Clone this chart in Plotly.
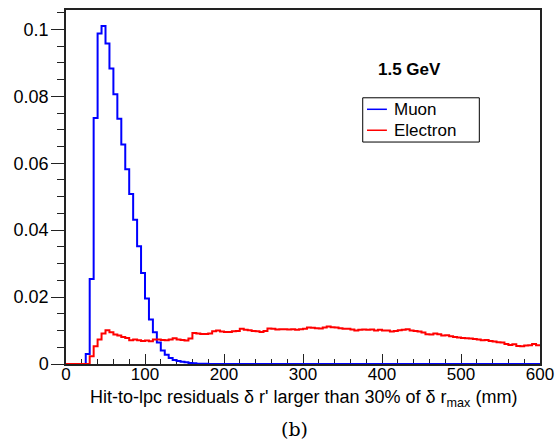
import numpy as np
import plotly.graph_objects as go

# 5 mm bins from 0 to 600 mm
bin_edges = np.arange(0, 605, 5)

# normalised entries per bin, muons
muon = [
    0, 0, 0, 0, 0, 0.0030, 0.0254, 0.0735, 0.0988, 0.1010,
    0.0958, 0.0883, 0.0806, 0.0733, 0.0656, 0.0582, 0.0508, 0.0431, 0.0352, 0.0272,
    0.0196, 0.0133, 0.0095, 0.0064, 0.0040, 0.0028, 0.0018, 0.0012, 0.0009, 0.0007,
    0.0005, 0.0003, 0.0002, 0.0001, 0.0001, 0.0001, 0, 0, 0, 0,
] + [0] * 80

# normalised entries per bin, electrons
electron = [
    0, 0, 0, 0, 0, 0,
    0.0023, 0.0053, 0.0073, 0.0091, 0.0101, 0.0095, 0.0088, 0.0085, 0.0081, 0.0078,
    0.0071, 0.0073, 0.0071, 0.0069, 0.0070, 0.0068, 0.0073, 0.0073, 0.0072, 0.0071,
    0.0073, 0.0077, 0.0073, 0.0072, 0.0070, 0.0076, 0.0093, 0.0091, 0.0090, 0.0090,
    0.0091, 0.0098, 0.0100, 0.0097, 0.0096, 0.0096, 0.0098, 0.0099, 0.0105, 0.0102,
    0.0101, 0.0099, 0.0098, 0.0096, 0.0099, 0.0106, 0.0105, 0.0103, 0.0104, 0.0104,
    0.0103, 0.0104, 0.0102, 0.0104, 0.0105, 0.0109, 0.0108, 0.0107, 0.0106, 0.0109,
    0.0112, 0.0110, 0.0109, 0.0107, 0.0105, 0.0105, 0.0103, 0.0100, 0.0102, 0.0103,
    0.0102, 0.0103, 0.0100, 0.0102, 0.0100, 0.0100, 0.0097, 0.0099, 0.0101, 0.0102,
    0.0104, 0.0100, 0.0099, 0.0097, 0.0094, 0.0089, 0.0088, 0.0091, 0.0089, 0.0085,
    0.0086, 0.0083, 0.0081, 0.0079, 0.0078, 0.0077, 0.0076, 0.0075, 0.0073, 0.0071,
    0.0072, 0.0069, 0.0067, 0.0065, 0.0064, 0.0060, 0.0057, 0.0059, 0.0054, 0.0053,
    0.0055, 0.0056, 0.0060, 0.0056,
]

series_names = ["Muon", "Electron"]
series_colors = ["#0000ff", "#ff0000"]

FONT = "Liberation Sans, Arial, Helvetica, sans-serif"


def step_xy(values):
    # histogram outline: one point per bin edge, held until the next edge
    y = list(values) + [values[-1]]
    return bin_edges, y


fig = go.Figure()
for name, vals, col in zip(series_names, [muon, electron], series_colors):
    x, y = step_xy(vals)
    fig.add_trace(go.Scatter(
        x=x, y=y, mode="lines", name=name,
        line=dict(color=col, width=2, shape="hv"),
        showlegend=False, hoverinfo="skip",
    ))

fig.update_layout(
    width=557, height=444,
    margin=dict(l=66, r=17, t=10, b=80, autoexpand=False),
    paper_bgcolor="white", plot_bgcolor="white",
    font=dict(family=FONT, color="black"),
    showlegend=False,
)

fig.update_xaxes(
    range=[0, 600], dtick=100, tick0=0, automargin=False,
    ticks="inside", ticklen=10, tickwidth=1, tickcolor="#222",
    minor=dict(dtick=20, ticks="inside", ticklen=5, tickwidth=1, tickcolor="#222"),
    showline=True, linecolor="#222", linewidth=1.5, mirror=True,
    showgrid=False, zeroline=False, layer="below traces",
    tickfont=dict(size=17, family=FONT), ticklabelstandoff=-6,
)
fig.update_yaxes(
    range=[0, 0.1058], dtick=0.02, tick0=0, automargin=False,
    ticks="outside", ticklen=13, tickwidth=1, tickcolor="#222",
    minor=dict(dtick=0.005, ticks="outside", ticklen=7, tickwidth=1, tickcolor="#222"),
    showline=True, linecolor="#222", linewidth=1.5, mirror=True,
    showgrid=False, zeroline=False, layer="below traces",
    tickfont=dict(size=18, family=FONT), ticklabelstandoff=-1,
)

# axis title
fig.add_annotation(
    xref="paper", yref="paper", x=0.5005, y=-0.06, xanchor="center", yanchor="top",
    text="Hit-to-lpc residuals δ r' larger than 30% of δ r<sub>max</sub> (mm)",
    showarrow=False, font=dict(size=18, family=FONT),
)
# panel caption
fig.add_annotation(
    xref="paper", yref="paper", x=0.4826, y=-0.185, xanchor="center", yanchor="middle",
    text="(b)", showarrow=False,
    font=dict(size=19, family="DejaVu Serif, Liberation Serif, serif"),
)
# beam energy label
fig.add_annotation(
    xref="paper", yref="paper", x=0.7254, y=0.8307, xanchor="center", yanchor="middle",
    text="<b>1.5 GeV</b>", showarrow=False, font=dict(size=17, family=FONT),
)

# legend box
lx0, lx1, ly0, ly1 = 0.626, 0.872, 0.627, 0.752
fig.add_shape(type="rect", xref="paper", yref="paper", x0=lx0, x1=lx1, y0=ly0, y1=ly1,
              line=dict(color="black", width=1), fillcolor="white")
entry_y = [0.7195, 0.6603]
for name, col, yy in zip(series_names, series_colors, entry_y):
    fig.add_shape(type="line", xref="paper", yref="paper",
                  x0=0.635, x1=0.677, y0=yy, y1=yy, line=dict(color=col, width=1.5))
    fig.add_annotation(xref="paper", yref="paper", x=0.688, y=yy, xanchor="left",
                       yanchor="middle", text=name, showarrow=False,
                       font=dict(size=17, family=FONT))

fig.write_html("out.html")
